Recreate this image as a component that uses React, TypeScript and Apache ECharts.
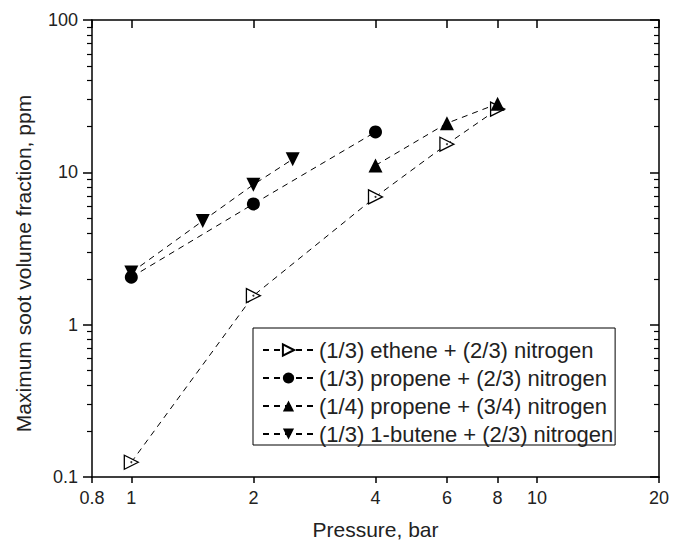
import React, { useEffect, useRef } from "react";
import * as echarts from "echarts";

const xTickValues = [0.8, 1, 2, 4, 6, 8, 10, 20];
const yMinorTickValues = [
  0.2, 0.3, 0.4, 0.5, 0.6, 0.7, 0.8, 0.9,
  2, 3, 4, 5, 6, 7, 8, 9,
  20, 30, 40, 50, 60, 70, 80, 90,
];

const etheneP = [1, 2, 4, 6, 8];
const etheneV = [0.125, 1.55, 6.9, 15.3, 26];
const propene13P = [1, 2, 4];
const propene13V = [2.05, 6.2, 18.4];
const propene14P = [4, 6, 8];
const propene14V = [11.1, 21, 28.2];
const buteneP = [1, 1.5, 2, 2.5];
const buteneV = [2.2, 4.8, 8.3, 12.2];

const names = [
  "(1/3) ethene + (2/3) nitrogen",
  "(1/3) propene + (2/3) nitrogen",
  "(1/4) propene + (3/4) nitrogen",
  "(1/3) 1-butene + (2/3) nitrogen",
];

const FONT = "Liberation Sans, Arial, sans-serif";
const INK = "#222";

const pairs = (xs: number[], ys: number[]) => xs.map((x, i) => [x, ys[i]]);

export default function App() {
  const ref = useRef<HTMLDivElement>(null);
  useEffect(() => {
    if (!ref.current) return;
    const chart = echarts.init(ref.current, null, { renderer: "svg" });
    const lineStyle = { type: [6, 5] as any, width: 1, color: "#000" };
    const axisLine = { show: true, lineStyle: { color: "#000", width: 1.5 } };
    chart.setOption({
      animation: false,
      backgroundColor: "#fff",
      textStyle: { fontFamily: FONT },
      grid: { left: 92, right: 24, top: 20, bottom: 64, containLabel: false, outerBoundsMode: "none" },
      legend: {
        orient: "vertical",
        left: 253,
        top: 328,
        data: names,
        borderColor: "#000",
        borderWidth: 1,
        padding: [11, 2, 0, 9],
        itemWidth: 51,
        itemHeight: 14,
        itemGap: 6,
        textStyle: { fontSize: 22, color: INK, fontFamily: FONT },
      },
      xAxis: [
        {
          type: "log",
          logBase: 10,
          min: 0.8,
          max: 20,
          position: "bottom",
          axisLine,
          axisTick: { show: true, inside: false, length: 6, customValues: xTickValues, lineStyle: { color: "#000", width: 1.5 } },
          axisLabel: { customValues: xTickValues, fontSize: 18, color: INK, margin: 12, fontFamily: FONT },
          splitLine: { show: false },
          name: "Pressure, bar",
          nameLocation: "middle",
          nameGap: 42,
          nameTextStyle: { fontSize: 21, color: INK, fontFamily: FONT },
        },
        {
          type: "log",
          logBase: 10,
          min: 0.8,
          max: 20,
          position: "top",
          axisLine,
          axisTick: { show: true, inside: true, length: 8, customValues: xTickValues, lineStyle: { color: "#000", width: 1.5 } },
          axisLabel: { show: false },
          splitLine: { show: false },
        },
      ],
      yAxis: [
        {
          type: "log",
          logBase: 10,
          min: 0.1,
          max: 100,
          position: "left",
          axisLine,
          axisTick: { show: true, inside: false, length: 9, lineStyle: { color: "#000", width: 1.5 } },
          axisLabel: { fontSize: 18, color: INK, margin: 14, fontFamily: FONT },
          splitLine: { show: false },
          name: "Maximum soot volume fraction, ppm",
          nameLocation: "middle",
          nameGap: 58,
          nameTextStyle: { fontSize: 21, color: INK, fontFamily: FONT, padding: [0, 30, 0, 0] },
        },
        {
          type: "log",
          logBase: 10,
          min: 0.1,
          max: 100,
          position: "right",
          axisLine,
          axisTick: { show: true, inside: true, length: 9, lineStyle: { color: "#000", width: 1.5 } },
          axisLabel: { show: false },
          splitLine: { show: false },
        },
        {
          type: "log",
          logBase: 10,
          min: 0.1,
          max: 100,
          position: "left",
          axisLine: { show: false },
          axisTick: { show: true, inside: false, length: 5, customValues: yMinorTickValues, lineStyle: { color: "#000", width: 1.2 } },
          axisLabel: { show: false },
          splitLine: { show: false },
        },
        {
          type: "log",
          logBase: 10,
          min: 0.1,
          max: 100,
          position: "right",
          axisLine: { show: false },
          axisTick: { show: true, inside: true, length: 5, customValues: yMinorTickValues, lineStyle: { color: "#000", width: 1.2 } },
          axisLabel: { show: false },
          splitLine: { show: false },
        },
      ],
      series: [
        {
          name: names[0],
          type: "line",
          data: pairs(etheneP, etheneV),
          symbol: "triangle",
          symbolRotate: -90,
          symbolSize: 14,
          lineStyle,
          itemStyle: { color: "#fff", borderColor: "#000", borderWidth: 1.3 },
          z: 3,
        },
        {
          name: "ethene-dot",
          type: "scatter",
          data: pairs(etheneP, etheneV),
          symbol: "circle",
          symbolSize: 2,
          itemStyle: { color: "#000" },
          z: 4,
          silent: true,
        },
        {
          name: names[1],
          type: "line",
          data: pairs(propene13P, propene13V),
          symbol: "circle",
          symbolSize: 13,
          lineStyle,
          itemStyle: { color: "#000" },
        },
        {
          name: names[2],
          type: "line",
          data: pairs(propene14P, propene14V),
          symbol: "triangle",
          symbolSize: 14,
          lineStyle,
          itemStyle: { color: "#000" },
        },
        {
          name: names[3],
          type: "line",
          data: pairs(buteneP, buteneV),
          symbol: "triangle",
          symbolRotate: 180,
          symbolSize: 14,
          lineStyle,
          itemStyle: { color: "#000" },
        },
      ],
    });
    return () => chart.dispose();
  }, []);
  return <div ref={ref} style={{ width: 683, height: 541, position: "absolute", left: 0, top: 0 }} />;
}
